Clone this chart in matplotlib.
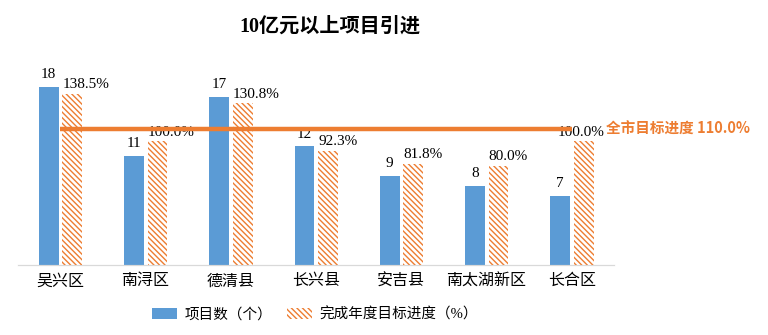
import matplotlib
matplotlib.use('Agg')
import matplotlib.pyplot as plt
import numpy as np

# data
districts = ['吴兴区', '南浔区', '德清县', '长兴县', '安吉县', '南太湖新区', '长合区']
projects = [18, 11, 17, 12, 9, 8, 7]
progress = [138.5, 100.0, 130.8, 92.3, 81.8, 80.0, 100.0]
city_target = 110.0

plt.rcParams['font.family'] = ['Liberation Serif', 'Noto Sans CJK SC', 'DejaVu Sans']
plt.rcParams['hatch.linewidth'] = 1.0
plt.rcParams['hatch.color'] = '#ED7D31'

blue = '#5B9BD5'
orange = '#ED7D31'

fig = plt.figure(figsize=(7.68, 3.35), dpi=100)
ax = fig.add_axes([0.023, 0.209, 0.777, 0.612])
ax2 = ax.twinx()

x = np.arange(len(districts))
w = 0.23
b1 = ax.bar(x - 0.135, projects, width=w, color=blue, label='项目数（个）', zorder=2)
b2 = ax2.bar(x + 0.14, progress, width=w, color='white', edgecolor=orange,
             linewidth=0, hatch='\\\\\\\\\\\\', label='完成年度目标进度（%）', zorder=2)

ax2.plot([x[0], x[-1]], [city_target, city_target], color=orange, lw=3.2,
         solid_capstyle='butt', zorder=5)
ax2.text(x[-1] + 0.4, city_target, f'全市目标进度 {city_target:.1f}%', color=orange,
         fontsize=10.5, fontweight='bold', va='center', ha='left',
         family=['Noto Sans CJK SC', 'DejaVu Sans'], clip_on=False)

for xi, v in zip(x, projects):
    ax.annotate(f'{v}', (xi - 0.135, v), xytext=(0, 4), textcoords='offset points',
                ha='center', va='bottom', fontsize=11)
for i, (xi, v) in enumerate(zip(x, progress)):
    if i == len(x) - 1:
        ax2.annotate(f'{v:.1f}%', (xi + 0.14, v), xytext=(-2, 2), textcoords='offset points',
                     ha='center', va='bottom', fontsize=11)
    else:
        ax2.annotate(f'{v:.1f}%', (xi + 0.14 - w / 2, v), xytext=(0, 2),
                     textcoords='offset points', ha='left', va='bottom', fontsize=11)

ax.set_xlim(-0.5, len(x) - 0.5)
ax.set_ylim(0, 20.7)
ax2.set_ylim(0, 166)
ax.set_xticks(x)
ax.set_xticklabels(districts, fontsize=11.5)
ax.tick_params(axis='x', length=0, pad=6)
ax.set_yticks([])
ax2.set_yticks([])
for a in (ax, ax2):
    for s in ['top', 'right', 'left']:
        a.spines[s].set_visible(False)
    a.spines['bottom'].set_color('#D9D9D9')

fig.text(0.43, 0.92, '10亿元以上项目引进', ha='center', va='center', fontsize=14.5,
         fontweight='bold')

fig.legend([b1, b2], ['项目数（个）', '完成年度目标进度（%）'], loc='lower center',
           bbox_to_anchor=(0.41, 0.0), ncol=2, frameon=False, fontsize=10.5,
           handlelength=1.7, handleheight=0.8, columnspacing=1.0, handletextpad=0.5)

fig.savefig('out.png', dpi=100)
